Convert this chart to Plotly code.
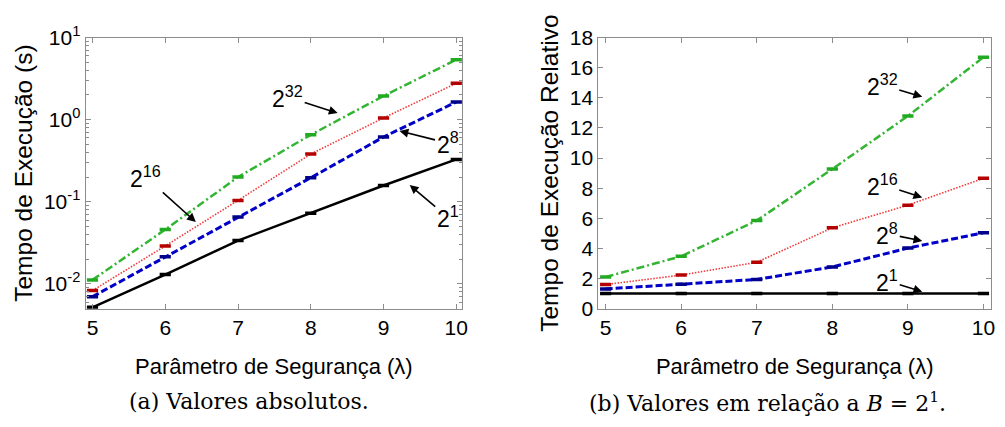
import plotly.graph_objects as go

# Security parameter (lambda) on the x axis
lam = [5, 6, 7, 8, 9, 10]

# Absolute execution time (s) for each base B
abs_b1 = [0.0052, 0.0130, 0.0337, 0.0728, 0.158, 0.328]
abs_b8 = [0.0070, 0.0214, 0.0654, 0.196, 0.615, 1.64]
abs_b16 = [0.0083, 0.0290, 0.104, 0.381, 1.05, 2.77]
abs_b32 = [0.0112, 0.0459, 0.200, 0.654, 1.94, 5.37]

# Execution time relative to B = 2^1
rel_b1 = [1.0, 1.0, 1.0, 1.0, 1.0, 1.0]
rel_b8 = [1.31, 1.62, 1.94, 2.77, 4.02, 5.04]
rel_b16 = [1.60, 2.23, 3.08, 5.37, 6.87, 8.65]
rel_b32 = [2.10, 3.48, 5.85, 9.27, 12.79, 16.69]

log_tickvals = [0.01, 0.1, 1, 10]
log_ticktext = ["10<sup>-2</sup>", "10<sup>-1</sup>", "10<sup>0</sup>", "10<sup>1</sup>"]
rel_tickvals = [0, 2, 4, 6, 8, 10, 12, 14, 16, 18]

SANS = "Liberation Sans, Arial, sans-serif"
SERIF = "DejaVu Serif, serif"
AXIS_GREY = "#8c8c8c"

styles = {
    "b1": dict(line=dict(color="#000000", width=2.5, dash="solid"), mcolor="#000000"),
    "b8": dict(line=dict(color="#0000c8", width=3, dash="7px,3px"), mcolor="#00008c"),
    "b16": dict(line=dict(color="#f03a3a", width=1.6, dash="1.5px,1.5px"), mcolor="#b40000"),
    "b32": dict(line=dict(color="#33b533", width=2.5, dash="8px,3px,2px,3px"), mcolor="#22aa22"),
}

fig = go.Figure()


def add_series(y, key, xa, ya):
    st = styles[key]
    fig.add_trace(go.Scatter(
        x=lam, y=y, mode="lines+markers", xaxis=xa, yaxis=ya,
        line=st["line"],
        marker=dict(symbol="line-ew", size=8,
                    line=dict(width=3.5, color=st["mcolor"])),
        showlegend=False, hoverinfo="x+y",
    ))


for ys, k in [(abs_b1, "b1"), (abs_b8, "b8"), (abs_b16, "b16"), (abs_b32, "b32")]:
    add_series(ys, k, "x", "y")
for ys, k in [(rel_b1, "b1"), (rel_b8, "b8"), (rel_b16, "b16"), (rel_b32, "b32")]:
    add_series(ys, k, "x2", "y2")

common_axis = dict(
    showline=True, linecolor=AXIS_GREY, linewidth=1, mirror="ticks",
    ticks="inside", ticklen=5, tickcolor=AXIS_GREY,
    showgrid=False, zeroline=False,
    tickfont=dict(family=SANS, size=21, color="#000000"),
)

xtitle = dict(text="Parâmetro de Segurança (λ)", font=dict(family=SANS, size=22, color="#000"), standoff=20)
ytitle_font = dict(family=SANS, size=24.5, color="#000")

minor_log = [m * 10 ** e for e in (-3, -2, -1, 0) for m in range(2, 10)]

fig.update_layout(
    width=1005, height=427,
    margin=dict(l=0, r=0, t=0, b=0),
    paper_bgcolor="white", plot_bgcolor="white",
    xaxis=dict(common_axis, domain=[0.0856, 0.4627], range=[4.904, 10.082],
               tickvals=lam, title=xtitle),
    yaxis=dict(common_axis, domain=[0.267, 0.9415], type="log",
               range=[-2.301, 1.0], tickvals=log_tickvals, ticktext=log_ticktext,
               minor=dict(tickvals=minor_log, ticks="inside", ticklen=3, tickcolor=AXIS_GREY),
               title=dict(text="Tempo de Execução (s)", font=ytitle_font, standoff=4)),
    xaxis2=dict(common_axis, domain=[0.599, 0.992], range=[4.904, 10.10],
                tickvals=lam, anchor="y2", title=xtitle),
    yaxis2=dict(common_axis, domain=[0.267, 0.9415], range=[0, 18],
                tickvals=rel_tickvals, anchor="x2",
                title=dict(text="Tempo de Execução Relativo", font=ytitle_font, standoff=4)),
)

ann_font = dict(family=SANS, size=23, color="#000")


def arrow(text, x, y, ax, ay, xref, yref):
    fig.add_annotation(
        text=text, x=x, y=y, ax=ax, ay=ay, xref=xref, yref=yref,
        showarrow=True, arrowhead=2, arrowsize=1.1, arrowwidth=1.6,
        arrowcolor="#000", font=ann_font,
    )


# Left panel (log axis: y given as log10)
arrow("2<sup>32</sup>", 8.37, 0.08, -50, -16, "x", "y")
arrow("2<sup>8</sup>", 9.22, -0.138, 48, 12, "x", "y")
arrow("2<sup>16</sup>", 6.42, -1.246, -50, -45, "x", "y")
arrow("2<sup>1</sup>", 9.36, -0.796, 38, 32, "x", "y")

# Right panel
arrow("2<sup>32</sup>", 9.19, 14.06, -40, -12, "x2", "y2")
arrow("2<sup>16</sup>", 9.19, 7.375, -40, -13, "x2", "y2")
arrow("2<sup>8</sup>", 9.19, 4.5, -35, -7, "x2", "y2")
arrow("2<sup>1</sup>", 9.19, 1.125, -35, -11, "x2", "y2")

# Sub-figure captions
cap_font = dict(family=SERIF, size=22, color="#000")
for txt, cx in [("(a) Valores absolutos.", 250),
                ("(b) Valores em relação a <i>B</i> = 2<sup>1</sup>.", 772)]:
    fig.add_annotation(text=txt, x=cx / 1005, y=1 - 412 / 427,
                       xref="paper", yref="paper", xanchor="center", yanchor="middle",
                       showarrow=False, font=cap_font)

fig.write_html("out.html")
